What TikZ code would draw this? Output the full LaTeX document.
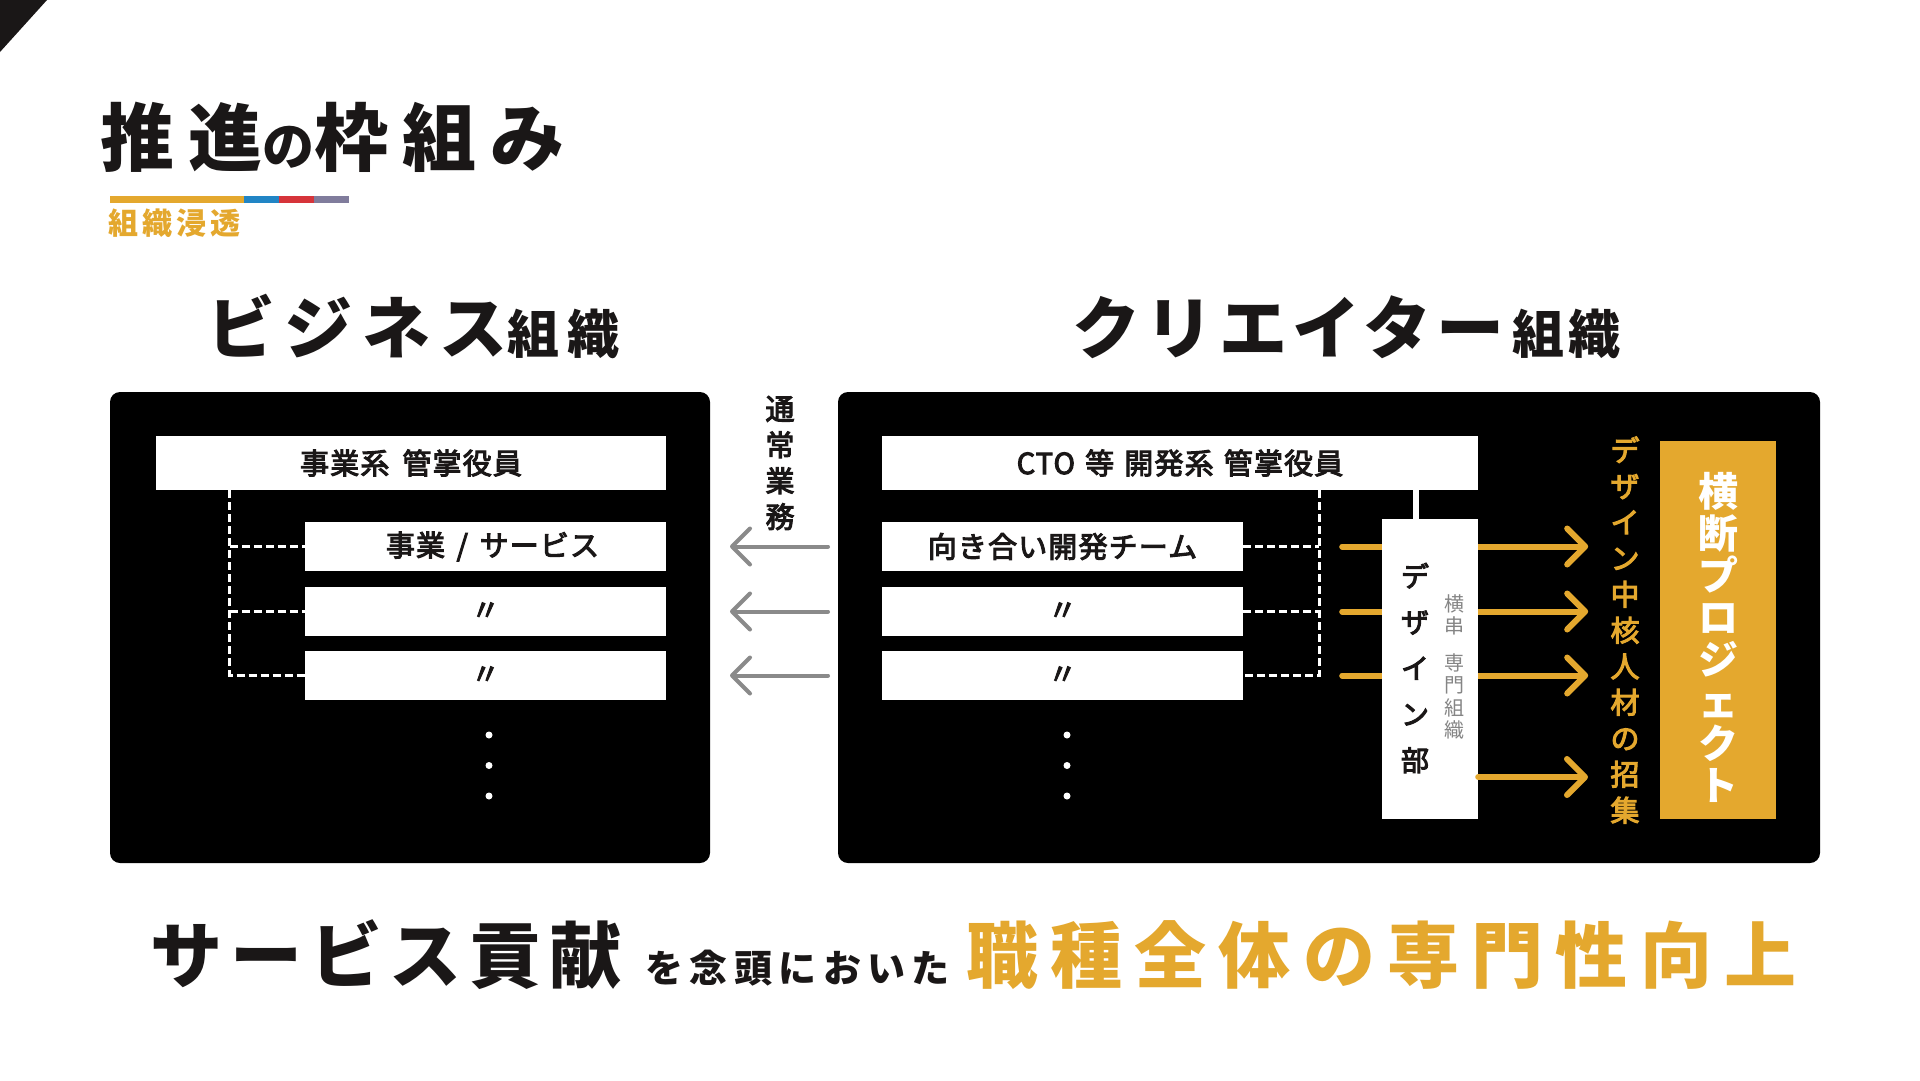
\documentclass[tikz,border=0pt]{standalone}
\usepackage{fontspec}
\setmainfont{Noto Sans CJK JP}
\newfontfamily\jpT[LetterSpace=19]{Noto Sans CJK JP}
\newfontfamily\jpSub[LetterSpace=14]{Noto Sans CJK JP}
\newfontfamily\jpHb[LetterSpace=14]{Noto Sans CJK JP}
\newfontfamily\jpHc[LetterSpace=8]{Noto Sans CJK JP}
\newfontfamily\jpW[LetterSpace=4,FakeBold=3.5]{Noto Sans CJK JP}
\newfontfamily\jpM[FakeBold=3.5]{Noto Sans CJK JP}
\newfontfamily\jpBa[LetterSpace=11]{Noto Sans CJK JP}
\newfontfamily\jpS[LetterSpace=17]{Noto Sans CJK JP}
\newfontfamily\jpL[LetterSpace=17]{Noto Sans CJK JP}
\usetikzlibrary{arrows.meta}
\definecolor{gold}{HTML}{E4A82E}
\definecolor{barblue}{HTML}{2185C5}
\definecolor{barred}{HTML}{D6343A}
\definecolor{barpurple}{HTML}{807C9C}
\definecolor{ink}{HTML}{1A1717}
\definecolor{arrgray}{HTML}{8A8A8A}
\definecolor{txtgray}{HTML}{858585}
\tikzset{
  blackbox/.style={fill=black, rounded corners=10pt, inner sep=0pt, draw=none},
  whitebox/.style={fill=white, inner sep=0pt, text=ink, font=\jpW\fontsize{29}{32}\selectfont},
  dashw/.style={draw=white, line width=3pt, dash pattern=on 8pt off 4pt},
  goldarrow/.style={draw=gold, line width=6pt, line cap=round, -{Straight Barb[length=18pt,width=36pt,round]}},
  grayarrow/.style={draw=arrgray, line width=4pt, line cap=round, -{Straight Barb[length=18pt,width=36pt,round]}},
  vtext/.style={align=center, inner sep=0pt},
  dotw/.style={circle, fill=white, inner sep=0pt, minimum size=7pt},
  plain/.style={inner sep=0pt},
}
\begin{document}
\begin{tikzpicture}[x=1pt,y=-1pt]
\useasboundingbox (0,0) rectangle (1920,1080);
\fill[white] (0,0) rectangle (1920,1080);
\fill[ink] (0,0) -- (47,0) -- (0,52) -- cycle;

% title
\node[plain, anchor=base west, text=ink, font=\jpT\fontsize{74}{80}\selectfont\bfseries] (title) at (100,165) {推進{\fontsize{52}{56}\selectfont の}枠組み};
\fill[gold] (110,196) rectangle (244,203);
\fill[barblue] (244,196) rectangle (279,203);
\fill[barred] (279,196) rectangle (314,203);
\fill[barpurple] (314,196) rectangle (349,203);
\node[plain, anchor=west, text=gold, font=\jpSub\fontsize{30}{32}\selectfont\bfseries] (sub) at (108,223) {組織浸透};

% headings
\node[plain, anchor=base west, text=ink, font=\jpHb\fontsize{68}{70}\selectfont\bfseries] (hbiz) at (207,353) {ビジネス{\fontsize{52}{54}\selectfont 組織}};
\node[plain, anchor=base west, text=ink, font=\jpHc\fontsize{68}{70}\selectfont\bfseries] (hcre) at (1072,353) {クリエイター\hspace{8pt}{\fontsize{52}{54}\selectfont 組織}};

% black panels
\node[blackbox, minimum width=600pt, minimum height=471pt] (lbox) at (410,627.5) {};
\node[blackbox, minimum width=982pt, minimum height=471pt] (rbox) at (1329,627.5) {};

% left organisation
\node[whitebox, minimum width=510pt, minimum height=54pt] (ltop) at (411,463) {事業系\hspace{0.45em}管掌役員};
\node[whitebox, minimum width=361pt, minimum height=49pt] (lr1) at (485.5,546.5) {\hspace*{14pt}事業\hspace{0.4em}/\hspace{0.4em}サービス};
\node[whitebox, minimum width=361pt, minimum height=49pt] (lr2) at (485.5,611.5) {〃};
\node[whitebox, minimum width=361pt, minimum height=49pt] (lr3) at (485.5,675.5) {〃};
\coordinate (lv) at ([xshift=74pt]ltop.south west);
\draw[dashw] (lv) |- (lr3.west);
\draw[dashw] (lv |- lr1.west) -- (lr1.west);
\draw[dashw] (lv |- lr2.west) -- (lr2.west);
\node[dotw] (ld1) at (489,735) {};
\node[dotw] (ld2) at (489,765.5) {};
\node[dotw] (ld3) at (489,796) {};

% right organisation
\node[whitebox, minimum width=596pt, minimum height=54pt] (rtop) at (1180,463) {CTO\hspace{0.35em}等\hspace{0.35em}開発系\hspace{0.35em}管掌役員};
\node[whitebox, minimum width=361pt, minimum height=49pt] (rr1) at (1062.5,546.5) {向き合い開発チーム};
\node[whitebox, minimum width=361pt, minimum height=49pt] (rr2) at (1062.5,611.5) {〃};
\node[whitebox, minimum width=361pt, minimum height=49pt] (rr3) at (1062.5,675.5) {〃};
\coordinate (rv) at ([xshift=-159pt]rtop.south east);
\draw[dashw] (rv) |- (rr3.east);
\draw[dashw] (rr1.east) -- (rv |- rr1.east);
\draw[dashw] (rr2.east) -- (rv |- rr2.east);
\node[dotw] (rd1) at (1067,735) {};
\node[dotw] (rd2) at (1067,765.5) {};
\node[dotw] (rd3) at (1067,796) {};

% gold arrows through the design department
\coordinate (o1s) at ([xshift=99pt]rr1.east);
\coordinate (o1e) at ([xshift=345pt]rr1.east);
\coordinate (o2s) at ([xshift=99pt]rr2.east);
\coordinate (o2e) at ([xshift=345pt]rr2.east);
\coordinate (o3s) at ([xshift=99pt]rr3.east);
\coordinate (o3e) at ([xshift=345pt]rr3.east);
\coordinate (o4e) at (1588,777);
\draw[goldarrow] (o1s) -- (o1e);
\draw[goldarrow] (o2s) -- (o2e);
\draw[goldarrow] (o3s) -- (o3e);

\node[fill=white, inner sep=0pt, minimum width=96pt, minimum height=300pt] (dbox) at (1430,669) {};
\coordinate (dlink) at ([xshift=-14pt]dbox.north);
\draw[white, line width=6pt] (dlink |- rtop.south) -- (dlink);
\node[vtext, text=ink, font=\jpM\fontsize{28}{46}\selectfont] (dname) at (1415,668) {デ\\ザ\\イ\\ン\\部};
\node[vtext, text=txtgray, font=\fontsize{20}{22.5}\selectfont] (dsub) at (1454,667) {横\\串\\[14pt]専\\門\\組\\織};
\draw[goldarrow] (dbox.east |- o4e) -- (o4e);

\node[vtext, text=gold, font=\jpM\fontsize{29}{36}\selectfont] (recruit) at (1625,630) {デ\\ザ\\イ\\ン\\中\\核\\人\\材\\の\\招\\集};
\node[fill=gold, inner sep=0pt, minimum width=116pt, minimum height=378pt] (proj) at (1718,630) {};
\node[vtext, text=white, font=\fontsize{40}{42}\selectfont\bfseries] (projtxt) at ([yshift=-7pt]proj.center) {横\\断\\プ\\ロ\\ジ\\ェ\\ク\\ト};

% normal business arrows
\node[vtext, text=ink, font=\jpM\fontsize{29}{36}\selectfont] (tsujo) at (780,463) {通\\常\\業\\務};
\coordinate (g1s) at (828,546.5);
\coordinate (g1e) at (730,546.5);
\coordinate (g2s) at (828,611.5);
\coordinate (g2e) at (730,611.5);
\coordinate (g3s) at (828,675.5);
\coordinate (g3e) at (730,675.5);
\draw[grayarrow] (g1s) -- (g1e);
\draw[grayarrow] (g2s) -- (g2e);
\draw[grayarrow] (g3s) -- (g3e);

% bottom statement
\node[plain, anchor=base west, text=ink, font=\jpBa\fontsize{72}{76}\selectfont\bfseries] (bot1) at (150,982) {サービス貢献};
\node[plain, anchor=base west, text=ink, font=\jpS\fontsize{38}{40}\selectfont\bfseries] (bot2) at (645,982) {を念頭においた};
\node[plain, anchor=base west, text=gold, font=\jpL\fontsize{72}{76}\selectfont\bfseries] (bot3) at (966,982) {職種全体の専門性向上};
\end{tikzpicture}
\end{document}
